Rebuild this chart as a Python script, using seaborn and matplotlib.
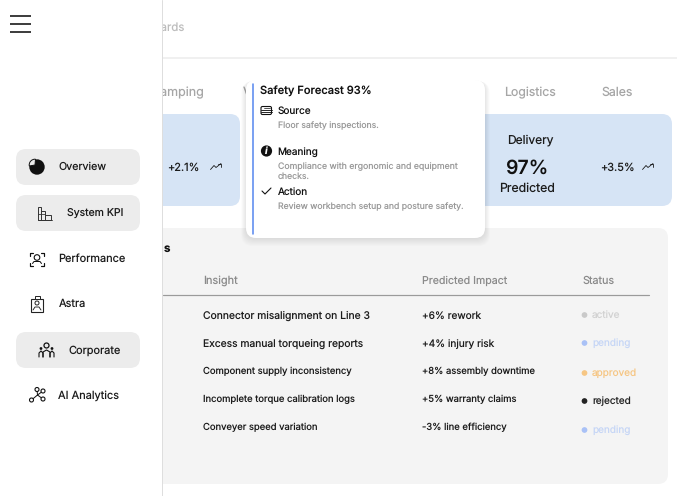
import numpy as np
import pandas as pd
import seaborn as sns
import matplotlib.pyplot as plt
from matplotlib.patches import FancyBboxPatch, Rectangle, Wedge, Circle

sns.set_theme(style='white')
plt.rcParams['font.family'] = ['Inter', 'DejaVu Sans']
plt.rcParams['text.hinting'] = 'no_hinting'

nav_labels = ['Overview', 'System KPI', 'Performance', 'Astra', 'Corporate', 'AI Analytics']
tab_labels = ['Stamping', 'Logistics', 'Sales']
insights = ['Connector misalignment on Line 3', 'Excess manual torqueing reports',
            'Component supply inconsistency', 'Incomplete torque calibration logs',
            'Conveyer speed variation']
impacts = ['+6% rework', '+4% injury risk', '+8% assembly downtime',
           '+5% warranty claims', '-3% line efficiency']
statuses = ['active', 'pending', 'approved', 'rejected', 'pending']
headers = ['Insight', 'Predicted Impact', 'Status']

dot_colors = {'active': '#c9c9c9', 'pending': '#a9c1f6', 'approved': '#f6c684', 'rejected': '#222222'}
text_colors = {'active': '#d2d2d2', 'pending': '#c6d6f6', 'approved': '#f6c684', 'rejected': '#222222'}

px = 0.72  # css px to pt at dpi 100


def box(ax, x0, y0, x1, y1, color, r=10, z=1, **kw):
    p = FancyBboxPatch((x0, y0), x1 - x0, y1 - y0, boxstyle='round,pad=0,rounding_size=%g' % r,
                       fc=color, ec='none', zorder=z, **kw)
    ax.add_patch(p)
    return p


def txt(ax, x, y, s, size=11, color='#1c1c1c', z=6, weight='normal', ha='left'):
    ax.text(x, y + 0.8, s, fontsize=size * px, color=color, zorder=z, weight=weight, ha=ha, va='center')


def line(ax, xs, ys, lw=1.0, color='#111111', z=6):
    ax.plot(xs, ys, color=color, lw=lw * px, zorder=z, solid_capstyle='round', solid_joinstyle='round')


def trend(ax, x, y):
    line(ax, [x - 5.5, x - 2, x, x + 5], [y + 3, y - 1, y + 1, y - 3], 0.8)
    line(ax, [x + 1.5, x + 5, x + 5], [y - 3, y - 3, y + 0.5], 0.8)


fig = plt.figure(figsize=(6.77, 4.96), dpi=100)
ax = fig.add_axes([0, 0, 1, 1])
ax.set_xlim(0, 677)
ax.set_ylim(496, 0)
ax.axis('off')

# header and tabs
line(ax, [0, 677], [58, 58], 1.5, '#ececec', 1)
txt(ax, 184.5, 27, 'Dashboards', 11.5, '#bdbdbd', 1, ha='right')
txt(ax, 204, 92, tab_labels[0], 12.5, '#a6a6a6', 1, ha='right')
txt(ax, 243, 92, 'V', 12.5, '#a6a6a6', 1)
txt(ax, 529.7, 92, tab_labels[1], 12.3, '#a6a6a6', 1, ha='center')
txt(ax, 617, 92, tab_labels[2], 12.3, '#a6a6a6', 1, ha='center')

# kpi cards
box(ax, 120, 114, 240, 206, '#d6e4f5')
box(ax, 470, 114, 672, 206, '#d6e4f5')
txt(ax, 183.5, 167, '+2.1%', 11, ha='center')
trend(ax, 216, 166.5)
txt(ax, 530, 139.5, 'Delivery', 12, ha='center')
txt(ax, 526.5, 167.5, '97%', 19.5, '#111111', weight='semibold', ha='center')
txt(ax, 527, 188, 'Predicted', 12.3, ha='center')
txt(ax, 617, 167, '+3.5%', 11, ha='center')
trend(ax, 648, 166.5)

# table panel
box(ax, 130, 228, 668, 484, '#f4f4f4')
txt(ax, 164, 248, 's', 11.5, '#111111', weight='bold')
for x, h, s in zip([203, 422.5, 582.5], headers, [11, 10.6, 10.8]):
    txt(ax, x, 280, h, s, '#8a8a8a')
line(ax, [163, 648.5], [295.2, 295.2], 1.2, '#9a9a9a', 2)

row_y = [315, 343, 370.5, 398.5, 426.5]
insight_size = [10.35, 10.3, 9.45, 9.45, 9.45]
impact_size = [10.1, 10.1, 9.45, 9.45, 9.45]
status_y = [315, 343, 373, 401, 430]
for y, s1, s2, a, b in zip(row_y, insight_size, impact_size, insights, impacts):
    txt(ax, 203, y, a, s1)
    txt(ax, 422.5, y, b, s2)
for y, st in zip(status_y, statuses):
    txt(ax, 592, y - 0.5, st, 10, text_colors[st])

df = pd.DataFrame({'y': status_y, 'status': statuses, 'x': 584.5})
sns.scatterplot(data=df, x='x', y='y', hue='status', palette=dot_colors, s=17, linewidth=0,
                legend=False, ax=ax, zorder=5)
ax.set_xlim(0, 677)
ax.set_ylim(496, 0)

# sidebar
ax.add_patch(Rectangle((0, 0), 162, 496, fc='white', ec='none', zorder=3))
line(ax, [162.2, 162.2], [0, 496], 1, '#dedede', 4)
for y in [16.2, 24.2, 32.2]:
    ax.plot([10, 31], [y, y], color='#111111', lw=1.6 * px, zorder=6, solid_capstyle='butt')
for y0 in [149, 195, 332]:
    box(ax, 16, y0, 140, y0 + 36, '#ececec', z=4)
nav_x = [58.5, 67, 58.5, 58.5, 68.5, 58.5]
nav_y = [167, 213, 259, 304, 350, 395]
nav_size = [10.7, 10.5, 11, 11, 11, 11]
for x, y, n, s in zip(nav_x, nav_y, nav_size, nav_labels):
    txt(ax, x, y - 0.5, s, n)

# nav icons
ax.add_patch(Circle((37, 167), 7.7, fc='#111111', ec='none', zorder=6))
ax.add_patch(Wedge((35, 165), 5.8, 170, 275, fc='#ececec', ec='#111111', lw=0.7, zorder=7))
for x0, x1, y0 in [(38, 41, 207), (41, 45, 211), (45, 51, 215)]:
    ax.add_patch(Rectangle((x0, y0), x1 - x0, 220 - y0, fc='none', ec='#333333', lw=0.7, zorder=6))
line(ax, [37.5, 51.5], [220, 220], 0.9, '#333333')
line(ax, [38, 45], [214, 214], 0.8, '#333333')
# performance
for sx, sy in [(1, 1), (-1, 1), (1, -1), (-1, -1)]:
    line(ax, [37 + sx * 7, 37 + sx * 7, 37 + sx * 4], [259 + sy * 3.5, 259 + sy * 6.5, 259 + sy * 6.5], 1.2)
ax.add_patch(Circle((37, 257.5), 2.8, fc='none', ec='#111111', lw=0.8, zorder=6))
line(ax, [32.5, 34, 40, 41.5], [263.5, 261.5, 261.5, 263.5], 1)
# astra
ax.add_patch(Rectangle((31, 299), 12, 12.5, fc='none', ec='#222222', lw=0.8, zorder=6))
ax.add_patch(Rectangle((34.5, 296), 5, 3, fc='white', ec='#222222', lw=0.7, zorder=7))
ax.add_patch(Circle((37, 303), 2, fc='none', ec='#222222', lw=0.7, zorder=6))
line(ax, [33, 35, 39, 41], [310, 307, 307, 310], 0.9, '#222222')
# corporate
ax.add_patch(Circle((46.5, 345.5), 2.5, fc='none', ec='#111111', lw=0.9, zorder=6))
ax.add_patch(Circle((41, 348.5), 1.4, fc='#111111', ec='none', zorder=6))
ax.add_patch(Circle((52, 348.5), 1.4, fc='#111111', ec='none', zorder=6))
line(ax, [39, 39, 41, 43, 43], [357, 353, 351, 353, 357], 1.1)
line(ax, [43, 43, 46.5, 50, 50], [357, 352, 350, 352, 357], 1.1)
line(ax, [50, 50, 52, 54, 54], [357, 353, 351, 353, 357], 1.1)
# ai analytics
nodes_x = [37, 43, 31.5, 43]
nodes_y = [389.5, 391, 400, 399]
for nx, ny in zip(nodes_x, nodes_y):
    line(ax, [37.5, nx], [395, ny], 1)
for nx, ny in zip(nodes_x, nodes_y):
    ax.add_patch(Circle((nx, ny), 2, fc='white', ec='#111111', lw=0.8, zorder=7))

# tooltip
for i in range(8, 0, -1):
    box(ax, 246 - i * 0.6, 80 + i * 0.2, 485 + i * 0.6, 238 + i, '#000000', r=11, z=8, alpha=0.013)
box(ax, 246, 80, 485, 238, 'white', z=9)
line(ax, [252.6, 252.6], [84, 234], 1.6, '#5c8cf0', 10)
tip_z = 11
txt(ax, 260, 91, 'Safety Forecast 93%', 11.1, '#111111', tip_z, weight='medium')
txt(ax, 277.5, 110.5, 'Source', 10, '#111111', tip_z)
txt(ax, 277.5, 125, 'Floor safety inspections.', 8.7, '#9a9a9a', tip_z)
txt(ax, 277.5, 151.5, 'Meaning', 10, '#111111', tip_z)
txt(ax, 277.5, 165.5, 'Compliance with ergonomic and equipment', 8.75, '#9a9a9a', tip_z)
txt(ax, 277.5, 176, 'checks.', 8.7, '#9a9a9a', tip_z)
txt(ax, 277.5, 191, 'Action', 10, '#111111', tip_z)
txt(ax, 277.5, 205.5, 'Review workbench setup and posture safety.', 8.7, '#9a9a9a', tip_z)
# tooltip icons
ax.add_patch(FancyBboxPatch((261, 106.5), 10.5, 8, boxstyle='round,pad=0,rounding_size=1.5',
                            fc='none', ec='#111111', lw=0.8, zorder=tip_z))
line(ax, [261, 272], [109.5, 109.5], 0.9, z=tip_z)
line(ax, [261, 272], [112, 112], 0.9, z=tip_z)
line(ax, [264, 270], [108, 108], 0.7, z=tip_z)
ax.add_patch(Circle((266.5, 151), 5.6, fc='#111111', ec='none', zorder=tip_z))
ax.text(266.5, 151, 'i', fontsize=7, color='white', weight='bold', style='italic', ha='center',
        va='center', zorder=tip_z + 1)
line(ax, [262, 265, 271], [191, 194, 188], 1.1, z=tip_z)

fig.savefig('out.png', dpi=100, facecolor='white')
